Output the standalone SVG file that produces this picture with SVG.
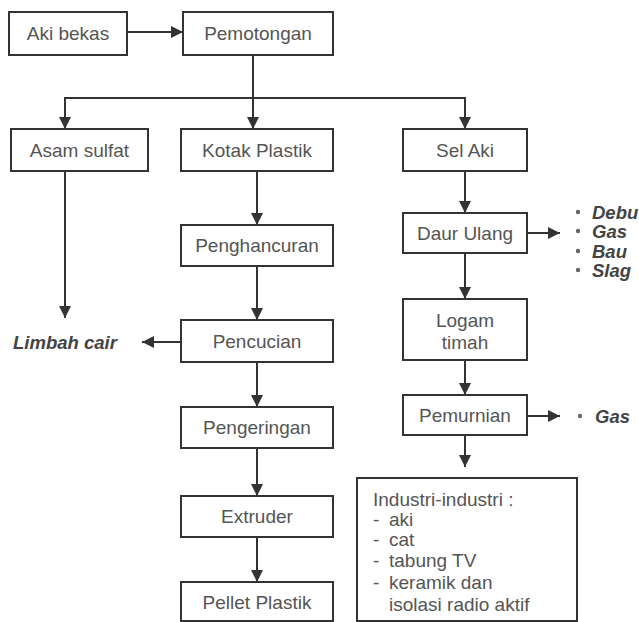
<svg xmlns="http://www.w3.org/2000/svg" width="639" height="622" viewBox="0 0 639 622">
<defs>
<marker id="ah" viewBox="0 0 12 12" refX="12" refY="6" markerWidth="12" markerHeight="12" markerUnits="userSpaceOnUse" orient="auto">
<path d="M0,0 L12,6 L0,12 Z" fill="#333"/>
</marker>
<style>
.box{fill:#fff;stroke:#333;stroke-width:2}
.t{font-family:"Liberation Sans",Arial,sans-serif;font-size:19px;fill:#555;text-anchor:middle;dominant-baseline:central}
.tl{font-family:"Liberation Sans",Arial,sans-serif;font-size:19px;fill:#555}
.bi{font-family:"Liberation Sans",Arial,sans-serif;font-size:18.5px;font-weight:bold;font-style:italic;fill:#444;dominant-baseline:central}
.dot{fill:#666}
.c{stroke:#333;stroke-width:2;fill:none}
.ca{stroke:#333;stroke-width:2;fill:none;marker-end:url(#ah)}
</style>
</defs>
<rect width="639" height="622" fill="#fff"/>
<g id="connectors">
<line class="ca" x1="127" y1="32" x2="183" y2="32"/>
<line class="ca" x1="253" y1="55" x2="253" y2="129"/>
<polyline class="c" points="65,129 65,98 465,98 465,129"/>
<line class="ca" x1="65" y1="116" x2="65" y2="129"/>
<line class="ca" x1="465" y1="116" x2="465" y2="129"/>
<line class="ca" x1="65" y1="171" x2="65" y2="318"/>
<line class="ca" x1="257" y1="171" x2="257" y2="225"/>
<line class="ca" x1="257" y1="266" x2="257" y2="320"/>
<line class="ca" x1="181" y1="342" x2="142" y2="342"/>
<line class="ca" x1="257" y1="362" x2="257" y2="407"/>
<line class="ca" x1="257" y1="448" x2="257" y2="496"/>
<line class="ca" x1="257" y1="537" x2="257" y2="582"/>
<line class="ca" x1="465" y1="171" x2="465" y2="213"/>
<line class="ca" x1="527" y1="233" x2="560" y2="233"/>
<line class="ca" x1="465" y1="253" x2="465" y2="299"/>
<line class="ca" x1="465" y1="360" x2="465" y2="395"/>
<line class="ca" x1="527" y1="416" x2="560" y2="416"/>
<line class="ca" x1="465" y1="435" x2="465" y2="467"/>
</g>
<g id="aki-bekas"><rect class="box" x="9" y="12" width="118" height="43"/><text class="t" x="68" y="33">Aki bekas</text></g>
<g id="pemotongan"><rect class="box" x="183" y="12" width="150" height="43"/><text class="t" x="258" y="33">Pemotongan</text></g>
<g id="asam-sulfat"><rect class="box" x="11" y="129" width="137" height="42"/><text class="t" x="79.5" y="150">Asam sulfat</text></g>
<g id="kotak-plastik"><rect class="box" x="181" y="129" width="152" height="42"/><text class="t" x="257" y="150">Kotak Plastik</text></g>
<g id="sel-aki"><rect class="box" x="403" y="129" width="124" height="42"/><text class="t" x="465" y="150">Sel Aki</text></g>
<g id="daur-ulang"><rect class="box" x="403" y="213" width="124" height="40"/><text class="t" x="465" y="233">Daur Ulang</text></g>
<g id="limbah-daur"><circle class="dot" cx="578" cy="212" r="2.2"/><text class="bi" x="592" y="212">Debu</text>
<circle class="dot" cx="578" cy="231" r="2.2"/><text class="bi" x="592" y="231">Gas</text>
<circle class="dot" cx="578" cy="251" r="2.2"/><text class="bi" x="592" y="251">Bau</text>
<circle class="dot" cx="578" cy="270" r="2.2"/><text class="bi" x="592" y="270">Slag</text></g>
<g id="penghancuran"><rect class="box" x="181" y="225" width="152" height="41"/><text class="t" x="257" y="245.5">Penghancuran</text></g>
<g id="limbah-cair"><text class="bi" x="13" y="342">Limbah cair</text></g>
<g id="pencucian"><rect class="box" x="181" y="320" width="152" height="42"/><text class="t" x="257" y="341">Pencucian</text></g>
<g id="logam-timah"><rect class="box" x="403" y="299" width="124" height="61"/><text class="t" x="465" y="320">Logam</text><text class="t" x="465" y="342">timah</text></g>
<g id="pemurnian"><rect class="box" x="403" y="395" width="124" height="40"/><text class="t" x="465" y="415">Pemurnian</text></g>
<g id="gas2"><circle class="dot" cx="580" cy="416" r="2.2"/><text class="bi" x="595" y="416">Gas</text></g>
<g id="pengeringan"><rect class="box" x="181" y="407" width="152" height="41"/><text class="t" x="257" y="427.5">Pengeringan</text></g>
<g id="extruder"><rect class="box" x="181" y="496" width="152" height="41"/><text class="t" x="257" y="516.5">Extruder</text></g>
<g id="pellet-plastik"><rect class="box" x="181" y="582" width="152" height="39"/><text class="t" x="257" y="602">Pellet Plastik</text></g>
<g id="industri"><rect class="box" x="357" y="478" width="220" height="143"/>
<text class="tl" x="373" y="506">Industri-industri :</text>
<text class="tl"><tspan x="373" y="526">-</tspan><tspan x="389" y="526">aki</tspan></text>
<text class="tl"><tspan x="373" y="546">-</tspan><tspan x="389" y="546">cat</tspan></text>
<text class="tl"><tspan x="373" y="567">-</tspan><tspan x="389" y="567">tabung TV</tspan></text>
<text class="tl"><tspan x="373" y="589">-</tspan><tspan x="389" y="589">keramik dan</tspan></text>
<text class="tl" x="389" y="611">isolasi radio aktif</text></g>
</svg>
